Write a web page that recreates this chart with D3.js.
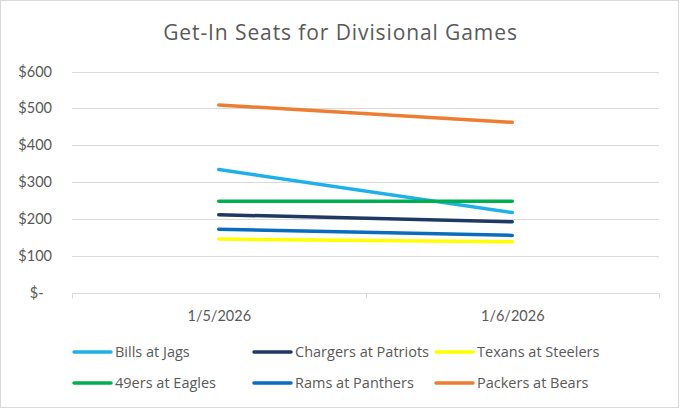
<!DOCTYPE html>
<html>
<head>
<meta charset="utf-8">
<script src="https://cdn.jsdelivr.net/npm/d3@7"></script>
<style>
html,body{margin:0;padding:0;background:#fff;}
svg{display:block;}
text{font-family:"Lato","Open Sans",sans-serif;fill:#595959;}
</style>
</head>
<body>
<svg id="chart" width="680" height="409"></svg>
<script>
const title = "Get-In Seats for Divisional Games";
const categories = ["1/5/2026", "1/6/2026"];
const seriesNames = ["Bills at Jags", "Chargers at Patriots", "Texans at Steelers", "49ers at Eagles", "Rams at Panthers", "Packers at Bears"];
const billsAtJags = [334, 217];
const chargersAtPatriots = [211, 192];
const texansAtSteelers = [145, 138];
const ninersAtEagles = [248, 248];
const ramsAtPanthers = [172, 155];
const packersAtBears = [509, 462];
const seriesColors = ["#1FB0EA", "#1F3864", "#FFFF00", "#00B050", "#0A6CBF", "#ED7D31"];
const yTicks = [0, 100, 200, 300, 400, 500, 600];

const seriesValues = [billsAtJags, chargersAtPatriots, texansAtSteelers, ninersAtEagles, ramsAtPanthers, packersAtBears];
const series = seriesNames.map((name, i) => ({name, color: seriesColors[i], values: seriesValues[i]}));

const svg = d3.select("#chart");
svg.append("rect").attr("x", 0.5).attr("y", 0.5).attr("width", 678).attr("height", 407)
  .attr("fill", "#fff").attr("stroke", "#d9d9d9").attr("stroke-width", 1);

const pLeft = 72, pRight = 659, pTop = 71.5, pBottom = 292.5;
const x = d3.scalePoint().domain(categories).range([pLeft, pRight]).padding(0.5);
const xBand = d3.scaleBand().domain(categories).range([pLeft, pRight]);
const y = d3.scaleLinear().domain([0, 600]).range([pBottom, pTop]);

// title
svg.append("text").attr("x", 340.5).attr("y", 39.5).attr("text-anchor", "middle")
  .style("font-family", "'Open Sans', sans-serif").style("font-size", "21px")
  .style("letter-spacing", "0.9px").text(title);

// gridlines
svg.append("g").selectAll("line").data(yTicks.filter(d => d > 0)).join("line")
  .attr("x1", pLeft).attr("x2", pRight)
  .attr("y1", d => Math.round(y(d)) + 0.5).attr("y2", d => Math.round(y(d)) + 0.5)
  .attr("stroke", "#d9d9d9").attr("stroke-width", 1);

// y axis labels
const yAxis = d3.axisLeft(y).tickValues(yTicks).tickSize(0).tickPadding(20)
  .tickFormat(d => d === 0 ? "$-\u2007" : "$" + d);
const yg = svg.append("g").attr("transform", `translate(${pLeft},0)`).call(yAxis);
yg.select(".domain").remove();
yg.selectAll("text").style("font-size", "14.5px").style("font-family", "Lato, sans-serif").attr("fill", "#595959");

// x axis
const xAxis = d3.axisBottom(x).tickSize(0).tickPadding(17);
const xg = svg.append("g").attr("transform", `translate(0,${Math.round(pBottom) + 0.5})`).call(xAxis);
xg.select(".domain").attr("stroke", "#d9d9d9").attr("d", `M${pLeft},0H${pRight}`);
xg.selectAll("text").style("font-size", "14.5px").style("font-family", "Lato, sans-serif").attr("fill", "#595959");
const bounds = categories.map(c => xBand(c)).concat([pRight]);
xg.append("g").selectAll("line").data(bounds).join("line")
  .attr("x1", d => Math.round(d) + 0.5).attr("x2", d => Math.round(d) + 0.5)
  .attr("y1", 0).attr("y2", 5).attr("stroke", "#d9d9d9");

// lines
const line = d3.line().x((d, i) => x(categories[i])).y(d => y(d));
svg.append("g").selectAll("path").data(series).join("path")
  .attr("d", d => line(d.values))
  .attr("fill", "none").attr("stroke", d => d.color)
  .attr("stroke-width", 3.5).attr("stroke-linecap", "round");

// legend
const colX = [74, 254, 436];
const rowY = [352, 383];
const lg = svg.append("g");
series.forEach((s, i) => {
  const cx = colX[i % 3], cy = rowY[Math.floor(i / 3)];
  lg.append("line").attr("x1", cx).attr("x2", cx + 37).attr("y1", cy).attr("y2", cy)
    .attr("stroke", s.color).attr("stroke-width", 3.5).attr("stroke-linecap", "round");
  lg.append("text").attr("x", cx + 41).attr("y", cy).attr("dy", "0.35em")
    .style("font-family", "'Open Sans', sans-serif").style("font-size", "14.5px").text(s.name);
});
</script>
</body>
</html>
